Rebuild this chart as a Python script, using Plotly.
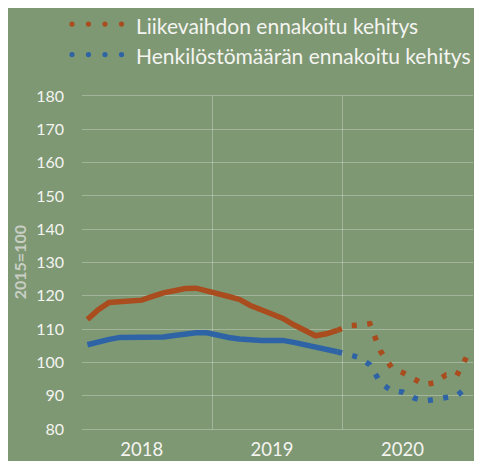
import plotly.graph_objects as go

# ---- data -------------------------------------------------------------
years = ["2018", "2019", "2020"]
months_per_year = 12

# actual development Jan 2018 - Dec 2019 (2015=100)
liikevaihto_toteutunut = [112.9, 115.8, 118.0, 118.3, 118.4, 118.7, 119.8, 120.9, 121.5, 122.2, 122.3, 121.6,
                          120.8, 119.8, 118.9, 117.1, 115.8, 114.5, 113.2, 111.3, 109.6, 108.0, 108.6, 109.6]
henkilosto_toteutunut = [105.3, 106.2, 106.9, 107.5, 107.5, 107.2, 107.3, 107.6, 108.1, 108.6, 108.9, 108.9,
                         108.0, 107.5, 107.0, 106.7, 106.6, 106.6, 106.6, 106.0, 105.4, 104.6, 103.9, 103.2]

# forecast Dec 2019 - Dec 2020
liikevaihto_ennuste = [109.6, 111.0, 111.2, 111.6, 103.3, 98.5, 97.0, 95.0, 93.3, 93.9, 96.2, 96.0, 102.2]
henkilosto_ennuste = [103.2, 102.4, 101.5, 99.3, 93.8, 91.5, 91.1, 89.4, 88.4, 88.9, 89.5, 90.0, 92.6]

legend_labels = ["Liikevaihdon ennakoitu kehitys", "Henkilöstömäärän ennakoitu kehitys"]
y_title = "2015=100"

# ---- styling ----------------------------------------------------------
BG = "#7E9874"
ORANGE = "#A94C1E"
BLUE = "#2E64A6"
GRID = "rgba(255,255,255,0.28)"
TXT = "#F4F4F0"
FONT = "Lato"

n_act = len(liikevaihto_toteutunut)
x_act = list(range(n_act))
x_fc = list(range(n_act - 1, n_act - 1 + len(liikevaihto_ennuste)))

DOTS = "5px,10.5px"

fig = go.Figure()
fig.add_trace(go.Scatter(x=x_act, y=liikevaihto_toteutunut, mode="lines",
                         line=dict(color=ORANGE, width=5.5), showlegend=False, hoverinfo="skip"))
fig.add_trace(go.Scatter(x=x_act, y=henkilosto_toteutunut, mode="lines",
                         line=dict(color=BLUE, width=5.5), showlegend=False, hoverinfo="skip"))
fig.add_trace(go.Scatter(x=x_fc, y=liikevaihto_ennuste, mode="lines", name=legend_labels[0],
                         line=dict(color=ORANGE, width=5.5, dash=DOTS), showlegend=False))
fig.add_trace(go.Scatter(x=x_fc, y=henkilosto_ennuste, mode="lines", name=legend_labels[1],
                         line=dict(color=BLUE, width=5.5, dash=DOTS), showlegend=False))

n_total = len(years) * months_per_year
tickvals = [i * months_per_year + 5 for i in range(len(years))]

# the page places the figure 8px from the top-left corner of the window
fig.update_layout(
    width=474, height=453,
    margin=dict(l=74, r=9, t=87.5, b=32),
    paper_bgcolor=BG, plot_bgcolor=BG,
    font=dict(family=FONT, color=TXT),
    showlegend=False,
    xaxis=dict(range=[-0.5, n_total - 0.5], tickvals=tickvals, ticktext=years,
               automargin=False,
               showgrid=False, zeroline=False, ticks="",
               tickfont=dict(size=18.5, color=TXT, family=FONT), ticklabelstandoff=4,
               minor=dict(tick0=-0.5, dtick=months_per_year, showgrid=True, gridcolor=GRID, gridwidth=1.2),
               showline=True, linecolor=GRID, linewidth=1.2, mirror=True),
    yaxis=dict(range=[80, 180], dtick=10, showgrid=True, gridcolor=GRID, gridwidth=1.2,
               automargin=False,
               zeroline=False, ticks="", tickfont=dict(size=16, color=TXT, family=FONT),
               ticklabelstandoff=17),
)

# y-axis title
fig.add_annotation(text="<b>" + y_title + "</b>", textangle=-90, xref="paper", yref="paper",
                   x=(19 - 82) / 391, y=(429 - 262) / 333.5, xanchor="center", yanchor="middle",
                   showarrow=False, font=dict(size=16, color="#C9CFC5", family=FONT))

# manual legend (dotted samples + labels)
legend_rows = [(ORANGE, 23.5, 24.5, legend_labels[0]), (BLUE, 54, 54.5, legend_labels[1])]
dot_px = [72, 88.5, 105, 121.5]
for color, ydot, ytxt, label in legend_rows:
    yp = (429 - ydot) / 333.5
    for dx in dot_px:
        xp = (dx - 82) / 391
        fig.add_shape(type="circle", xref="paper", yref="paper", xsizemode="pixel", ysizemode="pixel",
                      xanchor=xp, yanchor=yp, x0=-2.6, x1=2.6, y0=-2.6, y1=2.6,
                      fillcolor=color, line=dict(width=0))
    fig.add_annotation(text=label, xref="paper", yref="paper", x=(134 - 82) / 391,
                       y=(429 - ytxt) / 333.5,
                       xanchor="left", yanchor="middle", showarrow=False,
                       font=dict(size=21, color=TXT, family=FONT))

fig.write_html("out.html")
